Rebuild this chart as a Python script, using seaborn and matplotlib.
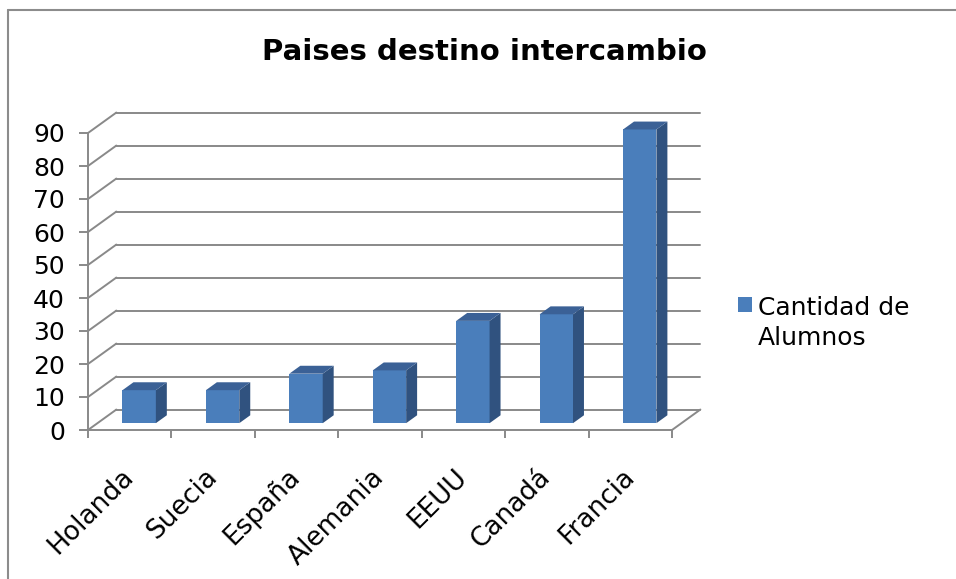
import numpy as np
import matplotlib
matplotlib.use("Agg")
import matplotlib.pyplot as plt
from matplotlib.patches import Polygon, Rectangle
from matplotlib.lines import Line2D
import seaborn as sns

# data
paises = ["Holanda", "Suecia", "España", "Alemania", "EEUU", "Canadá", "Francia"]
alumnos = [10, 10, 15, 16, 31, 33, 89]
y_ticks = list(range(0, 100, 10))
titulo = "Paises destino intercambio"
serie = "Cantidad de\nAlumnos"

sns.set_theme(style="white")
plt.rcParams["font.family"] = ["DejaVu Sans"]
plt.rcParams["text.color"] = "black"

W, H = 956, 579
fig = plt.figure(figsize=(W / 100, H / 100), dpi=100)
ax = fig.add_axes([88 / W, 1 - 430 / H, 584 / W, 297 / H])

# depth of the fake 3d box, in data units
DX, DY = 0.34, 6.2
GRIS = "#898989"
FRENTE, LADO, TAPA = "#4a7ebb", "#30527f", "#3b6196"

sns.barplot(x=paises, y=alumnos, color=FRENTE, saturation=1, width=0.4, ax=ax, zorder=3)
ax.set_xlim(-0.5, len(paises) - 0.5)
ax.set_ylim(0, 90)
x0, x1 = ax.get_xlim()

# back wall + left wall lines
for v in y_ticks:
    ax.plot([x0 + DX, x1 + DX], [v + DY, v + DY], color=GRIS, lw=1.4, clip_on=False, zorder=1)
    ax.plot([x0, x0 + DX], [v, v + DY], color=GRIS, lw=1.4, clip_on=False, zorder=1)
ax.plot([x1, x1 + DX], [0, DY], color=GRIS, lw=1.4, clip_on=False, zorder=1)

# bars sit in the middle of the depth, add side and top faces
f0, f1 = 1 / 3, 0.72
for p in list(ax.patches):
    x, w, h = p.get_x(), p.get_width(), p.get_height()
    xa, ya = x + DX * f0, DY * f0
    p.set_xy((xa, ya))
    p.set_clip_on(False)
    p.set_edgecolor("none")
    dx, dy = DX * (f1 - f0), DY * (f1 - f0)
    side = [(xa + w, ya), (xa + w + dx, ya + dy), (xa + w + dx, ya + h + dy), (xa + w, ya + h)]
    top = [(xa, ya + h), (xa + w, ya + h), (xa + w + dx, ya + h + dy), (xa + dx, ya + h + dy)]
    ax.add_patch(Polygon(side, closed=True, facecolor=LADO, edgecolor="none", clip_on=False, zorder=3))
    ax.add_patch(Polygon(top, closed=True, facecolor=TAPA, edgecolor="none", clip_on=False, zorder=3))

# axes
for s in ["top", "right"]:
    ax.spines[s].set_visible(False)
for s in ["left", "bottom"]:
    ax.spines[s].set_color(GRIS)
    ax.spines[s].set_linewidth(1.4)
ax.grid(False)
ax.set_xlabel("")
ax.set_ylabel("")

ax.set_yticks(y_ticks)
ax.tick_params(axis="y", left=True, direction="out", length=6.5, width=1.4, color=GRIS,
               pad=10, labelsize=18, labelcolor="black")
ax.set_xticks(range(len(paises)))
ax.set_xticks(np.arange(-0.5, len(paises)), minor=True)
ax.tick_params(axis="x", which="major", bottom=False, length=0, pad=31, labelsize=19, labelcolor="black")
ax.tick_params(axis="x", which="minor", bottom=True, direction="out", length=6, width=1.4, color=GRIS)
for lab in ax.get_xticklabels():
    lab.set_rotation(45)
    lab.set_ha("right")
    lab.set_va("center")
    lab.set_rotation_mode("anchor")

# title, legend, chart border
fig.text(484 / W, 1 - 52 / H, titulo, ha="center", va="center", fontsize=21, fontweight="bold", color="black")
fig.patches.append(Rectangle((738 / W, 1 - 312 / H), 14 / W, 15 / H, transform=fig.transFigure,
                             facecolor=FRENTE, edgecolor="none"))
fig.text(758 / W, 1 - 323 / H, serie, ha="left", va="center", fontsize=18, linespacing=1.35, color="black")

fig.add_artist(Line2D([8 / W, 8 / W], [0, 1 - 10 / H], transform=fig.transFigure, color="#8c8c8c", lw=1.5))
fig.add_artist(Line2D([8 / W, 1], [1 - 10 / H, 1 - 10 / H], transform=fig.transFigure, color="#8c8c8c", lw=1.5))

fig.savefig("out.png", dpi=100)
plt.close()
